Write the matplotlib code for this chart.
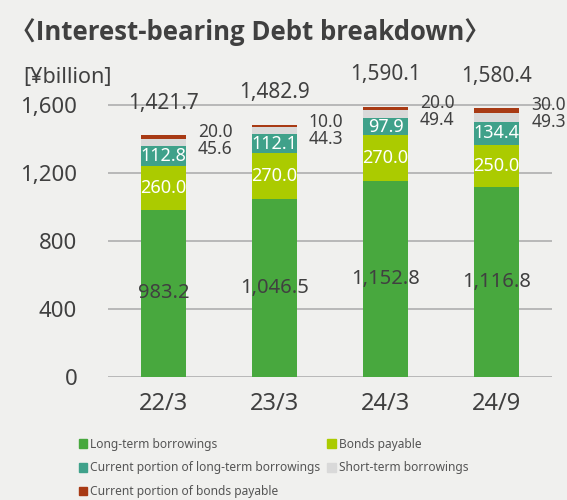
import numpy as np
import matplotlib.pyplot as plt
from matplotlib.patches import Patch

# data, ¥billion
periods = ["22/3", "23/3", "24/3", "24/9"]
long_term = [983.2, 1046.5, 1152.8, 1116.8]
bonds = [260.0, 270.0, 270.0, 250.0]
current_long = [112.8, 112.1, 97.9, 134.4]
short_term = [45.6, 44.3, 49.4, 49.3]
current_bonds = [20.0, 10.0, 20.0, 30.0]
totals = ["1,421.7", "1,482.9", "1,590.1", "1,580.4"]

names = ["Long-term borrowings", "Bonds payable",
         "Current portion of long-term borrowings", "Short-term borrowings",
         "Current portion of bonds payable"]
colors = ["#48a83e", "#abcb00", "#3fa18a", "#d9d9d9", "#a83a14"]

bg = "#f0f0ee"
txt = "#404040"
plt.rcParams['font.family'] = ['Noto Sans', 'Noto Sans CJK JP', 'DejaVu Sans']

fig = plt.figure(figsize=(5.67, 5.0), dpi=100, facecolor=bg)
ax = fig.add_axes([0.190, 0.246, 0.784, 0.578], facecolor=bg)

x = np.arange(len(periods))
w = 0.40
series = [long_term, bonds, current_long, short_term, current_bonds]
bottom = np.zeros(len(periods))
for vals, c in zip(series, colors):
    ax.bar(x, vals, w, bottom=bottom, color=c, zorder=3)
    bottom += np.array(vals)

# labels inside and beside the bars
lt = np.array(long_term)
for i in range(len(periods)):
    ax.text(x[i], lt[i] / 2, f"{long_term[i]:,.1f}", ha="center", va="center",
            fontsize=14.5, color=txt, zorder=4)
    b0 = lt[i]
    ax.text(x[i], b0 + bonds[i] / 2, f"{bonds[i]:.1f}", ha="center", va="center",
            fontsize=13, color="white", zorder=4)
    b1 = b0 + bonds[i]
    ax.text(x[i], b1 + current_long[i] / 2, f"{current_long[i]:.1f}", ha="center",
            va="center", fontsize=13, color="white", zorder=4)
    top = bottom[i]
    ax.text(x[i] + 0.31, top + 20, f"{current_bonds[i]:.1f}", ha="left",
            va="center", fontsize=12.5, color=txt, zorder=4)
    ax.text(x[i] + 0.31, top - 80, f"{short_term[i]:.1f}", ha="left",
            va="center", fontsize=12.5, color=txt, zorder=4)
    ax.text(x[i], top + 188, totals[i], ha="center", va="center",
            fontsize=15, color=txt, zorder=4)

ax.set_xlim(-0.5, 3.5)
ax.set_ylim(0, 1700)
ax.set_yticks([0, 400, 800, 1200, 1600])
ax.set_yticklabels(["0", "400", "800", "1,200", "1,600"])
ax.set_xticks(x)
ax.set_xticklabels(periods)
ax.tick_params(axis="y", length=0, pad=22, labelsize=16, labelcolor=txt)
ax.tick_params(axis="x", length=0, pad=11, labelsize=17, labelcolor=txt)
ax.yaxis.grid(True, color="#b4b4b4", lw=1.3, zorder=0)
for s in ax.spines.values():
    s.set_visible(False)

fig.text(23 / 567, 1 - 78 / 500, "[¥billion]", ha="left", va="center",
         fontsize=15.5, color=txt)
fig.text(250 / 567, 1 - 32 / 500, "〈Interest-bearing Debt breakdown〉",
         ha="center", va="center", fontsize=18.5, fontweight="bold", color=txt,
         family=['Open Sans', 'Noto Sans CJK JP', 'DejaVu Sans'])

# row-major legend order with ncol=2
order = [0, 2, 4, 1, 3]
handles = [Patch(color=colors[k], label=names[k]) for k in order]
fig.legend(handles=handles, ncol=2, loc="upper left",
           bbox_to_anchor=(68 / 567, 1 - 427 / 500), frameon=False,
           fontsize=8.6, labelcolor="#555555", handlelength=0.7,
           handleheight=0.7, handletextpad=0.25, columnspacing=0.6,
           labelspacing=0.9)

fig.savefig("out.png", dpi=100, facecolor=bg)
